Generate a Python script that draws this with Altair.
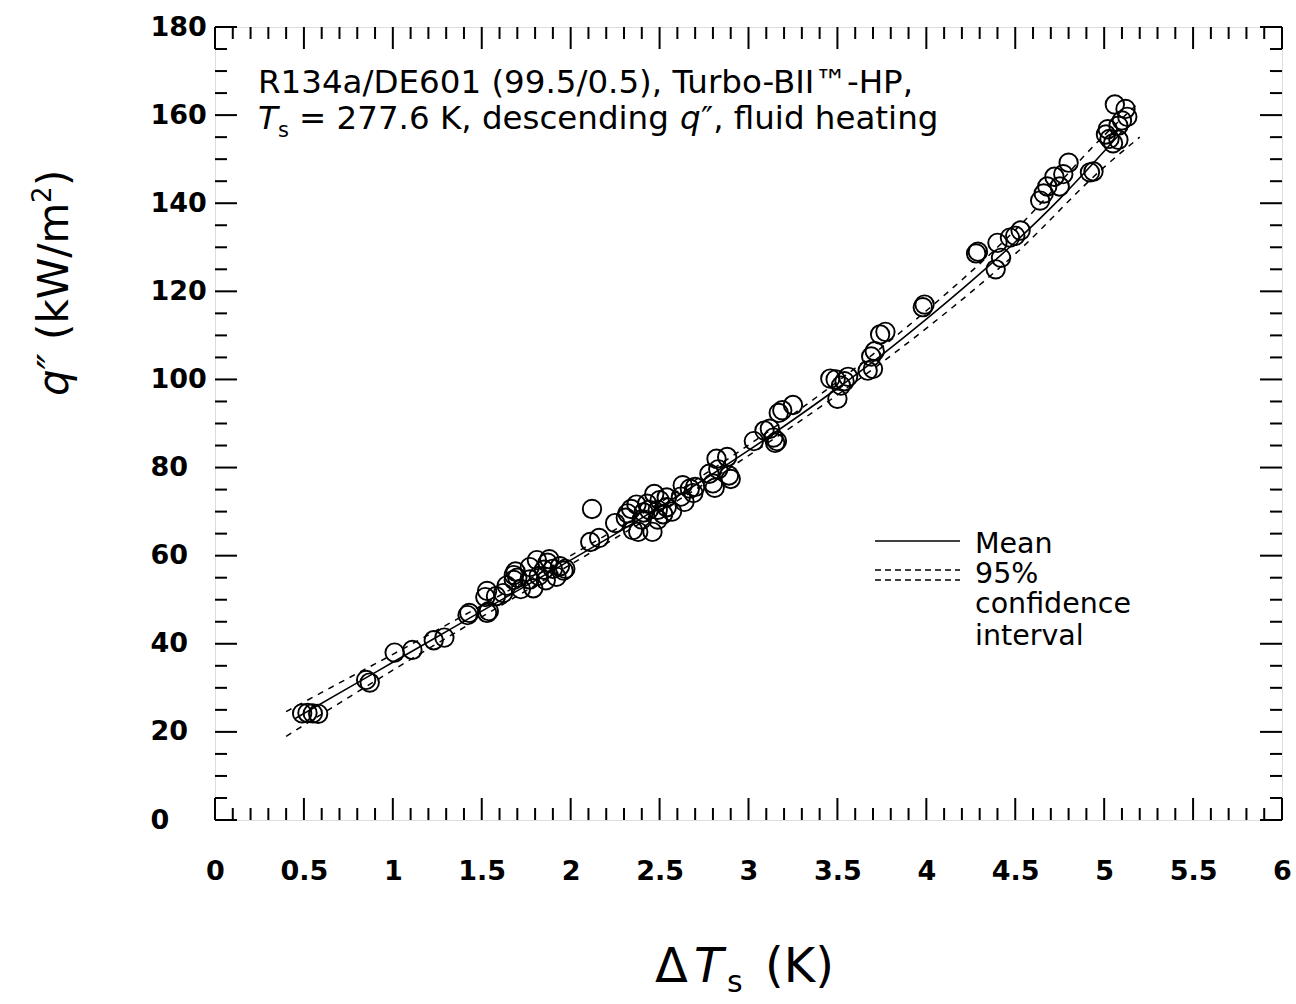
import altair as alt
import pandas as pd

# ---------------- data ----------------
pts_x = [0.49, 0.52, 0.55, 0.58, 0.85, 0.87, 1.01, 1.11, 1.23, 1.29,
         1.42, 1.43, 1.53, 1.54, 1.52, 1.53, 1.58, 1.62, 1.64, 1.68,
         1.68, 1.69, 1.70, 1.72, 1.77, 1.77, 1.79, 1.81, 1.82, 1.85,
         1.86, 1.87, 1.88, 1.90, 1.92, 1.94, 1.96, 1.97, 2.11, 2.12,
         2.16, 2.25, 2.31, 2.32, 2.34, 2.35, 2.37, 2.38, 2.40, 2.41,
         2.43, 2.44, 2.46, 2.47, 2.49, 2.49, 2.50, 2.52, 2.54, 2.54,
         2.57, 2.62, 2.63, 2.64, 2.67, 2.69, 2.70, 2.78, 2.80, 2.81,
         2.82, 2.83, 2.88, 2.89, 2.90, 3.03, 3.09, 3.12, 3.14, 3.15,
         3.16, 3.17, 3.19, 3.25, 3.46, 3.49, 3.50, 3.52, 3.54, 3.56,
         3.67, 3.69, 3.70, 3.71, 3.74, 3.77, 3.98, 3.99, 4.28, 4.29,
         4.39, 4.40, 4.42, 4.47, 4.50, 4.53, 4.64, 4.66, 4.68, 4.72,
         4.75, 4.77, 4.80, 4.92, 4.94, 5.01, 5.02, 5.03, 5.05, 5.06,
         5.08, 5.08, 5.10, 5.12, 5.13]
pts_y = [24.2, 24.3, 24.2, 24.1, 31.8, 31.2, 38.0, 38.6, 40.8, 41.4,
         46.5, 47.0, 47.0, 47.4, 50.6, 52.0, 50.8, 51.5, 53.2, 54.5,
         55.6, 56.4, 55.0, 52.4, 54.6, 57.4, 52.6, 59.0, 55.4, 56.8,
         54.4, 58.4, 59.2, 57.0, 55.2, 57.6, 56.6, 57.0, 63.1, 70.6,
         64.0, 67.4, 68.6, 69.6, 70.6, 65.8, 71.6, 65.4, 68.2, 69.8,
         71.8, 70.4, 65.4, 74.0, 68.2, 70.4, 72.6, 69.4, 73.2, 71.0,
         70.0, 73.4, 76.0, 72.2, 75.2, 74.2, 75.6, 78.6, 76.4, 75.4,
         82.0, 79.6, 82.4, 78.2, 77.4, 86.0, 88.4, 88.8, 86.8, 85.6,
         86.0, 92.4, 93.0, 94.2, 100.2, 100.0, 95.6, 98.6, 99.6, 100.6,
         102.0, 105.2, 102.4, 106.4, 110.2, 110.8, 116.4, 117.0, 128.6, 129.0,
         125.0, 131.0, 127.6, 132.2, 132.6, 133.8, 140.6, 142.2, 143.8, 146.0,
         143.8, 146.6, 149.2, 147.0, 147.2, 155.6, 156.8, 154.6, 153.6, 162.4,
         154.4, 157.6, 158.8, 161.4, 159.6]

mean_x = [0.45, 0.75, 1.0, 1.25, 1.5, 1.75, 2.0, 2.25, 2.5, 2.75, 3.0,
          3.25, 3.5, 3.75, 4.0, 4.25, 4.5, 4.75, 5.0, 5.1]
mean_y = [23.0, 30.0, 35.8, 41.6, 47.4, 53.2, 59.0, 64.9, 71.0, 77.3, 83.9,
          90.8, 98.0, 105.6, 113.7, 122.2, 131.2, 141.0, 151.8, 156.3]

ci_x = [0.4, 0.75, 1.0, 1.5, 2.0, 2.5, 3.0, 3.5, 4.0, 4.5, 5.0, 5.2]
ci_upper = [24.6, 32.2, 37.6, 48.7, 60.0, 72.0, 85.1, 99.5, 115.6, 133.9, 155.4, 163.0]
ci_lower = [19.0, 27.8, 34.0, 46.1, 58.0, 70.0, 82.7, 96.5, 111.6, 128.5, 148.2, 155.0]

x_major = [0, 0.5, 1, 1.5, 2, 2.5, 3, 3.5, 4, 4.5, 5, 5.5, 6]
x_minor = [round(i * 0.1, 1) for i in range(61) if i % 5 != 0]
y_major = [0, 20, 40, 60, 80, 100, 120, 140, 160, 180]
y_minor = [v for v in range(0, 181, 5) if v % 20 != 0]

legend_labels = ["Mean", "95%", "confidence", "interval"]

# ---------------- layout ----------------
LEFT, TOP = 215, 27
W, H = 1067, 793
FONT = "DejaVu Sans"

xs = alt.Scale(domain=[0, 6], nice=False, zero=False)
ys = alt.Scale(domain=[0, 180], nice=False, zero=False)

XAXIS = alt.Axis(
    values=x_major, labelExpr="'' + datum.value", ticks=False, tickSize=0,
    domain=False, grid=False, labelPadding=38, labelFont=FONT, labelFontSize=27,
    labelFontWeight="bold", labelColor="black", labelFlush=False,
    labelOverlap=False, title=None)
YAXIS = alt.Axis(
    values=y_major, ticks=False, tickSize=0, domain=False, grid=False,
    labelAlign="left", labelBaseline="middle", labelPadding=65,
    labelFont=FONT, labelFontSize=27, labelFontWeight="bold",
    labelColor="black", labelOverlap=False, title=None)

one = pd.DataFrame({"k": [0]})

points = alt.Chart(pd.DataFrame({"dT": pts_x, "q": pts_y})).mark_point(
    shape="circle", filled=False, color="black", size=340, strokeWidth=1.9, opacity=1
).encode(
    x=alt.X("dT:Q", scale=xs, axis=XAXIS),
    y=alt.Y("q:Q", scale=ys, axis=YAXIS),
)

mean_line = alt.Chart(pd.DataFrame({"dT": mean_x, "q": mean_y})).mark_line(
    color="black", strokeWidth=1.6, interpolate="monotone"
).encode(
    x=alt.X("dT:Q", scale=xs, axis=XAXIS),
    y=alt.Y("q:Q", scale=ys, axis=YAXIS),
)

def ci_layer(vals):
    return alt.Chart(pd.DataFrame({"dT": ci_x, "q": vals})).mark_line(
        color="black", strokeWidth=1.5, strokeDash=[6, 6], interpolate="monotone"
    ).encode(
        x=alt.X("dT:Q", scale=xs, axis=XAXIS),
        y=alt.Y("q:Q", scale=ys, axis=YAXIS),
    )

layers = [points, mean_line, ci_layer(ci_upper), ci_layer(ci_lower)]

# inward ticks on all four sides
def xticks(vals, length):
    d = pd.DataFrame({"dT": vals})
    base = alt.Chart(d).mark_rule(color="black", strokeWidth=2)
    xv = alt.X("dT:Q", scale=xs, axis=XAXIS)
    return [
        base.encode(x=xv, y=alt.value(H), y2=alt.value(H - length)),
        base.encode(x=xv, y=alt.value(0), y2=alt.value(length)),
    ]

def yticks(vals, length):
    d = pd.DataFrame({"q": vals})
    base = alt.Chart(d).mark_rule(color="black", strokeWidth=2)
    yv = alt.Y("q:Q", scale=ys, axis=YAXIS)
    return [
        base.encode(y=yv, x=alt.value(0), x2=alt.value(length)),
        base.encode(y=yv, x=alt.value(W), x2=alt.value(W - length)),
    ]

layers += xticks(x_major, 22) + xticks(x_minor, 12) + yticks(y_major, 22) + yticks(y_minor, 12)

# text helper (page coordinates)
def text_at(s, X, Y, size, italic=False, angle=0, align="left", baseline="alphabetic"):
    kw = dict(text=s, font=FONT, fontSize=size, color="black", align=align,
              baseline=baseline)
    if italic:
        kw["fontStyle"] = "italic"
    if angle:
        kw["angle"] = angle
    return alt.Chart(one).mark_text(**kw).encode(
        x=alt.value(X - LEFT), y=alt.value(Y - TOP))

# annotation
layers += [
    text_at("R134a/DE601 (99.5/0.5), Turbo-BII\u2122-HP,", 258, 93, 32.5),
    text_at("T", 258, 129, 32.5, italic=True),
    text_at("s", 278, 137, 21),
    text_at("= 277.6 K, descending", 299, 129, 32.5),
    text_at("q", 680, 129, 32.5, italic=True),
    text_at("\u2033, fluid heating", 701, 129, 32.5),
]

# axis titles
layers += [
    text_at("\u0394", 655, 982, 48),
    text_at("T", 694, 982, 48, italic=True),
    text_at("s", 727, 992, 30),
    text_at("(K)", 765, 982, 48),
    text_at("q\u2033", 68, 396, 42, italic=True, angle=270),
    text_at("(kW/m", 68, 340, 42, angle=270),
    text_at("2", 51, 203, 26, angle=270),
    text_at(")", 68, 186, 42, angle=270),
]

# legend
layers += [
    alt.Chart(one).mark_rule(color="black", strokeWidth=1.6).encode(
        x=alt.value(875 - LEFT), x2=alt.value(960 - LEFT), y=alt.value(541 - TOP)),
    alt.Chart(one).mark_rule(color="black", strokeWidth=1.3, strokeDash=[6, 4]).encode(
        x=alt.value(875 - LEFT), x2=alt.value(960 - LEFT), y=alt.value(570 - TOP)),
    alt.Chart(one).mark_rule(color="black", strokeWidth=1.3, strokeDash=[6, 4]).encode(
        x=alt.value(875 - LEFT), x2=alt.value(960 - LEFT), y=alt.value(580 - TOP)),
]
for lab, yb in zip(legend_labels, [553, 583, 613, 645]):
    layers.append(text_at(lab, 975, yb, 28.5))

chart = alt.layer(*layers).properties(
    width=W, height=H,
    autosize=alt.AutoSizeParams(type="none"),
    padding={"left": LEFT, "top": TOP, "right": 1296 - LEFT - W, "bottom": 1004 - TOP - H},
).configure_view(stroke="black", strokeWidth=2.5).configure(background="white")

chart.save("out.html", embed_options={"renderer": "svg", "actions": False})
